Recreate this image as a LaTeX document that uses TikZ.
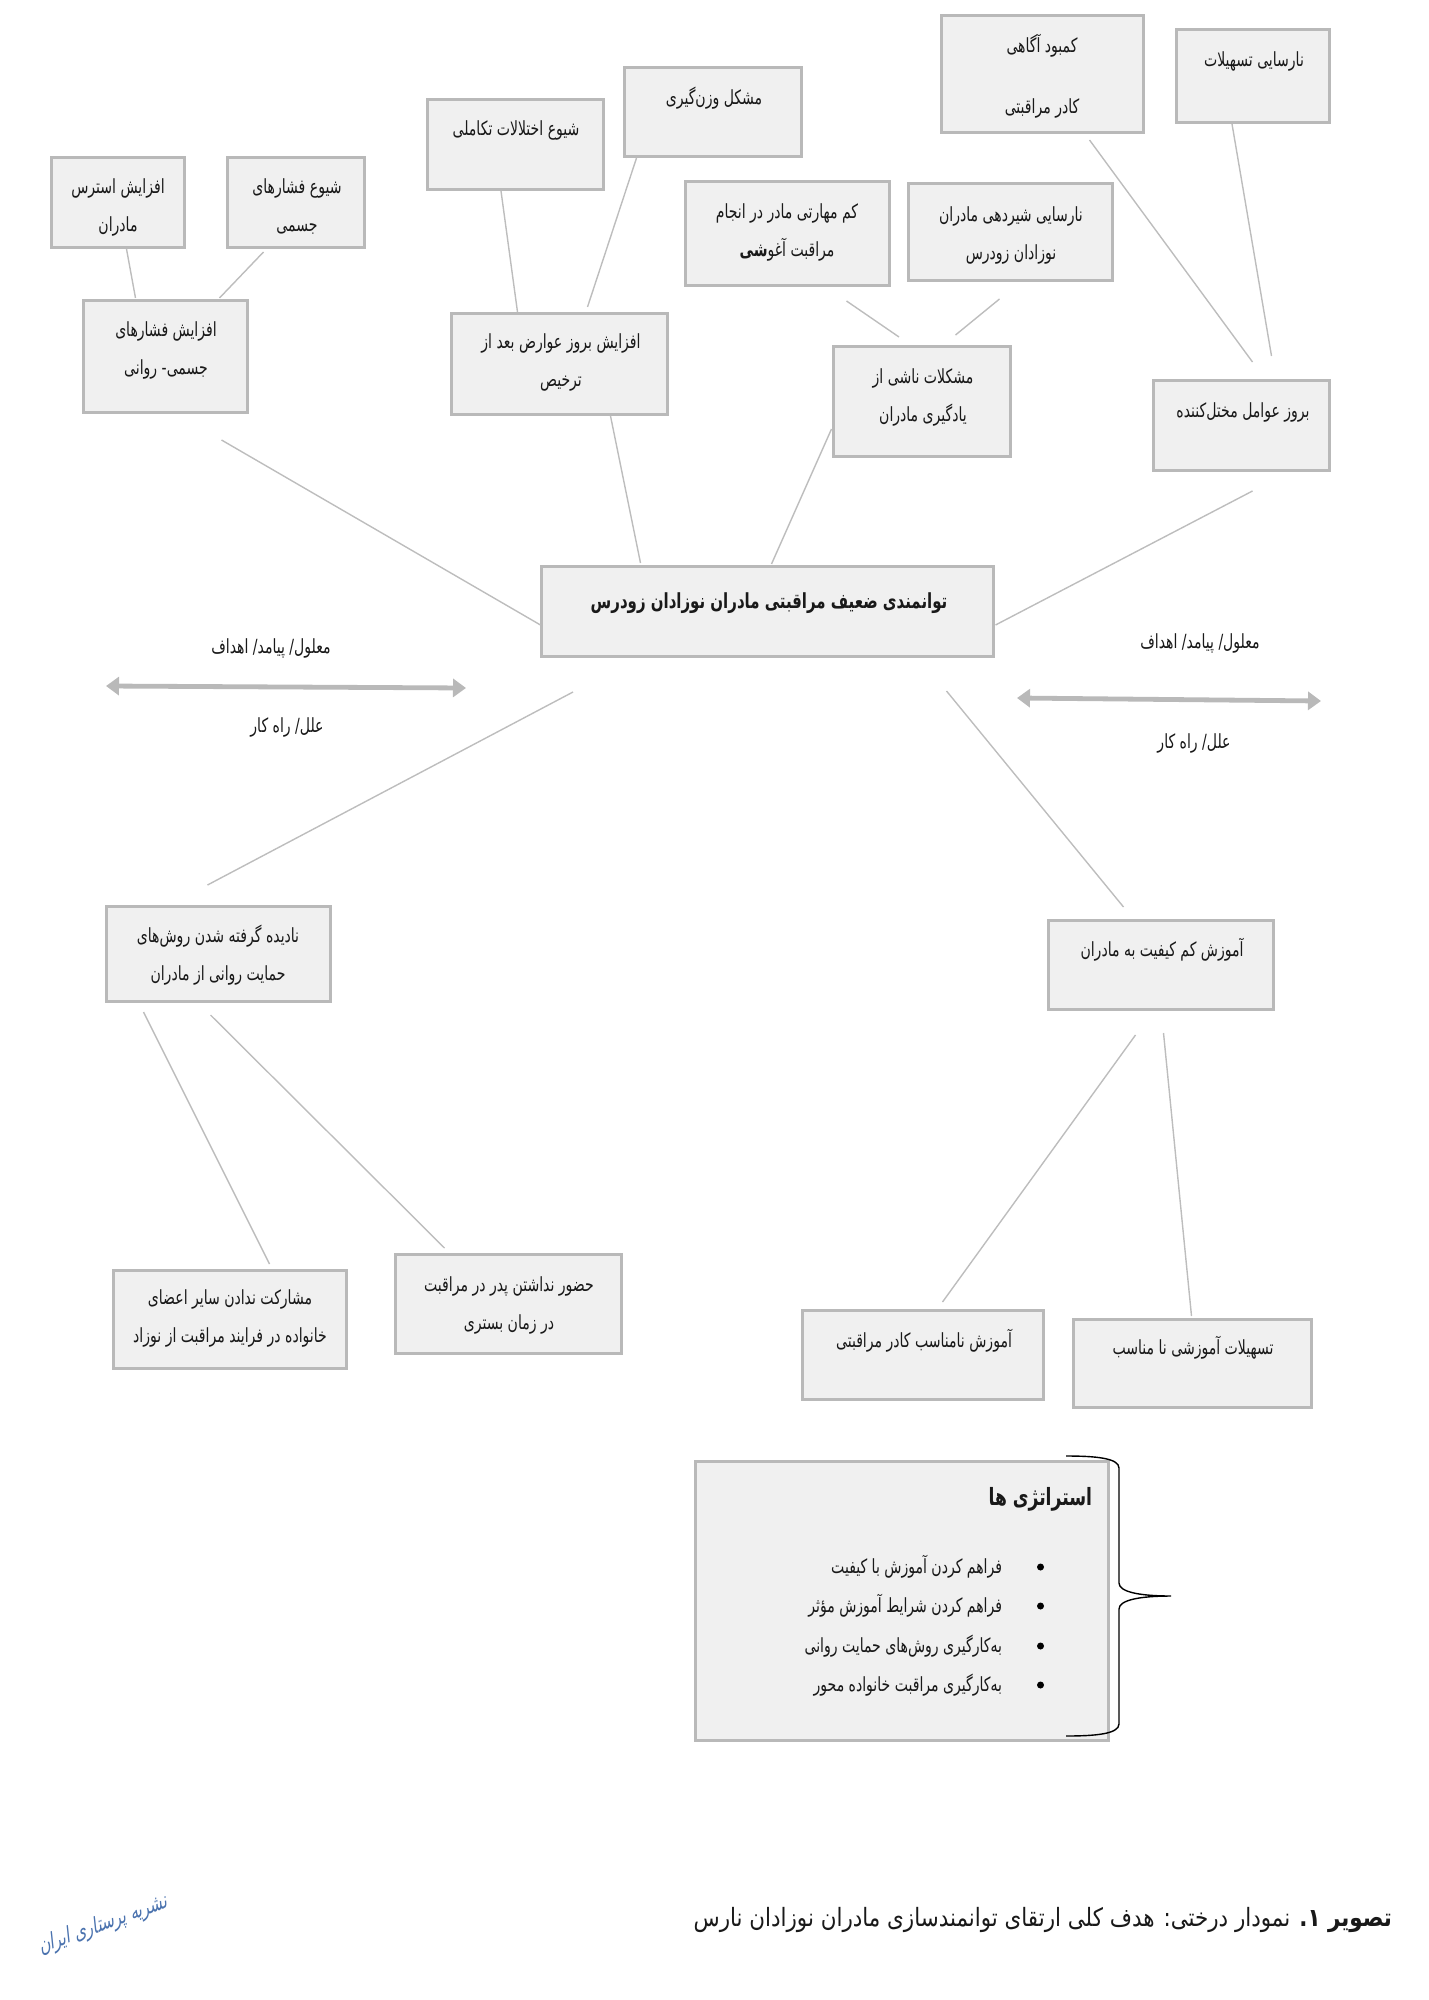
\documentclass[tikz,border=0pt]{standalone}
\usepackage{fontspec}
\usetikzlibrary{arrows.meta}
\TeXXeTstate=1
\newfontfamily\arabicfont[Script=Arabic,FakeStretch=0.72]{DejaVu Sans}
\newfontfamily\capfont[Script=Arabic,FakeStretch=0.85]{DejaVu Sans}
\newfontfamily\logofont[Script=Arabic,FakeSlant=0.25,FakeStretch=0.7]{DejaVu Sans}
\newcommand{\fa}[1]{\beginR #1\endR}
\definecolor{boxfill}{HTML}{F0F0F0}
\definecolor{boxedge}{HTML}{B9B9B9}
\definecolor{linkgray}{HTML}{BDBDBD}
\definecolor{logoblue}{HTML}{4A72AE}
\tikzset{
  boxn/.style={draw=boxedge,fill=boxfill,line width=1.5pt,inner sep=0pt,outer sep=0pt},
  txt/.style={inner sep=0pt,outer sep=0pt,align=center,text=black!90,font=\arabicfont\fontsize{9.75}{19}\selectfont},
  bigt/.style={txt,font=\arabicfont\bfseries\fontsize{10.4}{19}\selectfont},
  link/.style={draw=linkgray,line width=0.7pt},
  bar/.style={draw=boxedge,line width=2.4pt,{Triangle[width=9pt,length=6.5pt]}-{Triangle[width=9pt,length=6.5pt]}},
  dotn/.style={circle,fill=black,inner sep=0pt,minimum size=3.5pt}
}
\newcommand{\bx}[5]{\node[boxn,minimum width={(#4-#2-2)*0.5pt},minimum height={(#5-#3-3)*0.5pt}] (#1) at ({(#2+#4)/2+0.5},{(#3+#5)/2}) {};}
\newcommand{\lk}[6]{\draw[link] ([shift={(#2,#3)}]#1.center) -- ([shift={(#5,#6)}]#4.center);}
\begin{document}
\begin{tikzpicture}[x=0.5pt,y=-0.5pt]
\useasboundingbox (0,0) rectangle (1428,2000);
% boxes
\bx{A}{50}{156}{185}{249}
\bx{B}{226}{156}{365}{249}
\bx{C}{82}{299}{248}{414}
\bx{D}{426}{98}{604}{191}
\bx{E}{623}{66}{802}{158}
\bx{F}{450}{312}{668}{416}
\bx{G}{684}{180}{890}{287}
\bx{H}{907}{182}{1113}{282}
\bx{I}{940}{14}{1144}{134}
\bx{J}{1175}{28}{1330}{124}
\bx{K}{832}{345}{1011}{458}
\bx{L}{1152}{379}{1330}{472}
\bx{M}{540}{565}{994}{658}
\bx{N}{105}{905}{331}{1003}
\bx{O}{1047}{919}{1274}{1011}
\bx{P}{112}{1269}{347}{1370}
\bx{Q}{394}{1253}{622}{1355}
\bx{R}{801}{1309}{1044}{1401}
\bx{S}{1072}{1318}{1312}{1409}
\bx{T}{694}{1460}{1109}{1742}
% connectors
\lk{A}{8.5}{46.5}{C}{-30}{-58.5}
\lk{B}{-32.5}{49.5}{C}{54}{-58.5}
\lk{C}{56}{83.5}{M}{-227}{13.5}
\lk{D}{-14.5}{46.5}{F}{-42}{-52}
\lk{E}{-76.5}{46}{F}{28}{-57}
\lk{F}{51}{52}{M}{-127}{-48.5}
\lk{K}{-90.5}{27.5}{M}{4}{-47.5}
\lk{G}{59}{67.5}{K}{-23}{-64.5}
\lk{H}{-11}{67}{K}{33.5}{-66.5}
\lk{I}{47}{66}{L}{11}{-63.5}
\lk{J}{-21}{48}{L}{30}{-69.5}
\lk{L}{11}{65.5}{M}{228}{13.5}
\lk{M}{-194.5}{80.5}{N}{-11}{-69}
\lk{M}{179}{79.5}{O}{-37.5}{-58}
\lk{N}{-75}{58}{P}{39.5}{-55.5}
\lk{N}{-8}{61}{Q}{-64}{-56}
\lk{O}{-25.5}{70}{R}{19.5}{-53}
\lk{O}{2.5}{68}{S}{-1}{-47.5}
% box texts
\node[txt] (At) at (118,207) {\fa{افزایش استرس}\\\fa{مادران}};
\node[txt] (Bt) at (297,207) {\fa{شیوع فشارهای}\\\fa{جسمی}};
\node[txt] (Ct) at (166,350) {\fa{افزایش فشارهای}\\\fa{جسمی- روانی}};
\node[txt] (Dt) at (516,130) {\fa{شیوع اختلالات تکاملی}};
\node[txt] (Et) at (714,98) {\fa{مشکل وزن‌گیری}};
\node[txt] (Ft) at (561,362) {\fa{افزایش بروز عوارض بعد از}\\\fa{ترخیص}};
\node[txt] (Gt) at (787,232) {\fa{کم مهارتی مادر در انجام}\\\fa{مراقبت آغو{\bfseries شی}}};
\node[txt] (Ht) at (1011,235) {\fa{نارسایی شیردهی مادران}\\\fa{نوزادان زودرس}};
\node[txt] (Ita) at (1042,46) {\fa{کمبود آگاهی}};
\node[txt] (Itb) at (1042,108) {\fa{کادر مراقبتی}};
\node[txt] (Jt) at (1254,61) {\fa{نارسایی تسهیلات}};
\node[txt] (Kt) at (923,397) {\fa{مشکلات ناشی از}\\\fa{یادگیری مادران}};
\node[txt] (Lt) at (1243,412) {\fa{بروز عوامل مختل‌کننده}};
\node[bigt] (Mt) at (769,603) {\fa{توانمندی ضعیف مراقبتی مادران نوزادان زودرس}};
\node[txt] (Nt) at (218,955) {\fa{نادیده گرفته شدن روش‌های}\\\fa{حمایت روانی  از مادران}};
\node[txt] (Ot) at (1162,950) {\fa{آموزش کم کیفیت به مادران}};
\node[txt] (Pt) at (230,1318) {\fa{مشارکت ندادن سایر اعضای}\\\fa{خانواده در فرایند مراقبت از نوزاد}};
\node[txt] (Qt) at (509,1305) {\fa{حضور نداشتن پدر در مراقبت}\\\fa{در زمان بستری}};
\node[txt] (Rt) at (924,1341) {\fa{آموزش نامناسب کادر مراقبتی}};
\node[txt] (St) at (1193,1348) {\fa{تسهیلات آموزشی نا مناسب}};
% axis labels and arrows
\coordinate (lla) at (106,686);
\coordinate (llb) at (466,688);
\coordinate (rla) at (1017,698);
\coordinate (rlb) at (1321,701);
\draw[bar] (lla) -- (llb);
\draw[bar] (rla) -- (rlb);
\node[txt] (e1) at (271,648) {\fa{معلول/ پیامد/ اهداف}};
\node[txt] (c1) at (287,727) {\fa{علل/ راه کار}};
\node[txt] (e2) at (1200,643) {\fa{معلول/ پیامد/ اهداف}};
\node[txt] (c2) at (1194,743) {\fa{علل/ راه کار}};
% strategies
\node[bigt,anchor=east,font=\arabicfont\bfseries\fontsize{11.9}{19}\selectfont] (Tt) at (1092,1499) {\fa{استراتژی ها}};
\node[txt,anchor=east] (s1) at (1002,1567) {\fa{فراهم کردن آموزش با کیفیت}};
\node[txt,anchor=east] (s2) at (1002,1606) {\fa{فراهم کردن شرایط آموزش مؤثر}};
\node[txt,anchor=east] (s3) at (1002,1646) {\fa{به‌کارگیری روش‌های حمایت روانی}};
\node[txt,anchor=east] (s4) at (1002,1685) {\fa{به‌کارگیری مراقبت خانواده محور}};
\node[dotn] (d1) at (1040.5,1567) {};
\node[dotn] (d2) at (1040.5,1606) {};
\node[dotn] (d3) at (1040.5,1646) {};
\node[dotn] (d4) at (1040.5,1685) {};
\draw[black,line width=0.7pt] (1066,1456) .. controls (1095,1456) and (1119,1458) .. (1119,1468)
  -- (1119,1583) .. controls (1119,1592) and (1140,1596) .. (1171,1596)
  .. controls (1140,1596) and (1119,1600) .. (1119,1609)
  -- (1119,1724) .. controls (1119,1734) and (1095,1736) .. (1066,1736);
% caption and logo
\node[txt,anchor=east,font=\capfont\fontsize{12.6}{19}\selectfont] (cap) at (1392,1920) {\fa{{\bfseries تصویر ۱.} نمودار درختی: هدف کلی ارتقای توانمندسازی مادران نوزادان نارس}};
\node[inner sep=0pt,rotate=20,text=logoblue,font=\logofont\fontsize{11}{12}\selectfont] (logo) at (103,1925) {\fa{نشریه پرستاری ایران}};
\end{tikzpicture}
\end{document}
